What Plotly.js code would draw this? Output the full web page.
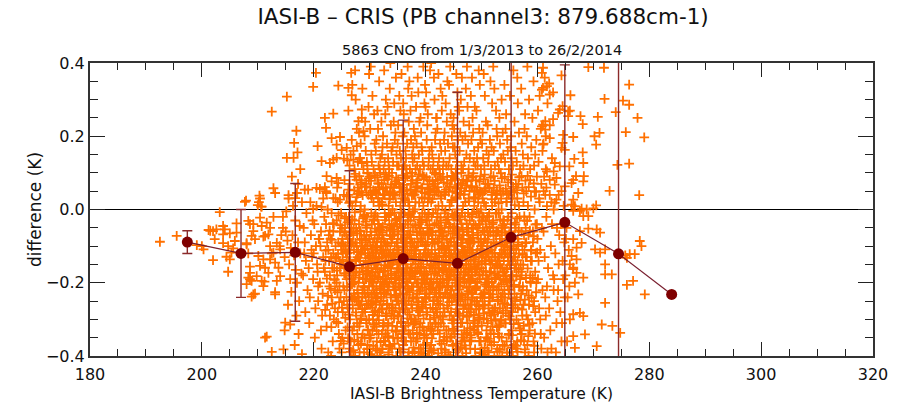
<!DOCTYPE html>
<html><head><meta charset="utf-8">
<script src="https://cdn.plot.ly/plotly-3.0.1.min.js"></script>
<style>html,body{margin:0;padding:0;background:#fff}#chart{width:903px;height:403px}</style>
</head><body><div id="chart"></div>
<script>
// Binned means (IASI-B BT bins) with standard deviations
const meanBT   = [197.4, 207.0, 216.7, 226.4, 236.0, 245.7, 255.3, 264.9, 274.5, 284.0];
const meanDiff = [-0.089, -0.120, -0.117, -0.156, -0.134, -0.147, -0.076, -0.035, -0.121, -0.232];
const sdDiff   = [0.031, 0.120, 0.188, 0.262, 0.378, 0.467, 0.550, 0.430, 0.620, 0];

// Individual collocations, flat [BT, diff, BT, diff, ...]
const leftPts = [192.5,-.088,195.5,-.072,199.1,-.097,200.0,-.100,200.3,-.109,201.2,-.056,201.5,-.058,202.0,-.059,202.6,-.054,202.0,-.138,202.3,-.081,203.2,-.007,203.8,-.092,203.8,-.045,204.1,-.054,203.8,-.068,204.4,-.129,204.7,-.170,204.7,-.100,205.3,-.118,205.0,-.136,205.0,-.065,205.6,-.106,206.2,-.038,206.2,-.063,205.9,-.086,207.7,.021,207.9,.024,208.3,-.031,208.6,-.040,209.2,-.059,208.9,-.072,209.5,-.081,208.0,-.095,208.6,-.156,208.6,-.190,208.9,-.238,208.6,-.173,208.3,-.186,208.9,-.195,208.0,-.204,209.2,-.232,209.2,-.040,210.4,-.022,210.7,-.045,211.6,-.036,212.2,-.050,211.3,-.072,211.9,-.068,210.1,-.127,211.0,-.136,210.4,-.154,211.3,-.159,209.8,-.182,210.7,-.195,211.9,-.173,211.0,-.209,209.5,-.230,213.1,-.232,212.2,-.100,213.4,-.091,212.8,-.118,214.0,-.109,213.1,-.145,213.7,-.159,212.2,-.136,214.0,-.182,213.4,-.195,211.3,-.350,212.5,-.389,214.6,-.382,214.9,-.309,215.8,-.314,210.7,.008,210.4,.030,210.3,.038,210.2,.020,210.0,.012,210.6,.008,211.6,-.347,212.5,.267,212.8,.058,213.1,.045,212.8,-.020,212.5,-.120,213.1,-.226,213.9,-.100,214.5,-.050,214.8,-.330,215.2,.308,215.2,.141,216.4,.141,216.5,.182,217.1,.156,215.5,.039,215.5,.030,215.8,-.190,211.0,-.074,211.2,-.197,208.0,-.092,208.3,-.120,
214.5,-.02,215.0,-.06,215.3,-.085,214.8,-.13,215.6,-.15,215.9,-.105,216.2,-.07,216.5,-.125,216.8,-.165,217.2,-.09,217.5,-.045,217.0,-.2,216.0,-.225,217.4,-.25,215.4,-.26,216.9,-.29,217.6,-.12,217.8,-.175,216.3,.01,217.0,.045,217.9,.02,216.7,-.03,215.1,-.005,214.2,-.07,217.3,-.34,216.6,-.37,217.9,-.395,216.1,.09,217.6,.11,217.2,.07,216.9,.215];

const bandA = [218.2,-.05,218.6,-.14,218.9,-.22,218.4,-.09,218.1,-.18,218.7,-.01,218.5,-.28,218.3,-.12,
219.5,-.07,219.1,-.16,219.8,-.03,219.3,-.24,219.6,-.11,219.2,-.31,219.9,-.19,219.4,.02,219.7,-.13,
220.4,-.10,220.8,-.21,220.1,-.04,220.6,-.15,220.3,-.27,220.9,-.08,220.2,-.35,220.7,-.17,220.5,.01,220.0,-.12,220.8,-.25,
221.3,-.06,221.7,-.13,221.1,-.20,221.9,-.02,221.5,-.29,221.2,-.10,221.8,-.16,221.4,-.38,221.6,-.23,221.0,-.08,221.7,.03,221.3,-.33,
222.6,-.11,222.2,-.04,222.9,-.18,222.4,-.26,222.1,-.14,222.7,-.07,222.3,-.32,222.8,-.21,222.5,.00,222.0,-.17,222.6,-.39,222.4,-.09,222.9,-.29,222.2,.05,
223.1,-.13,223.5,-.06,223.8,-.22,223.3,-.16,223.9,-.10,223.6,-.30,223.2,-.01,223.7,-.19,223.4,-.36,223.0,-.08,223.8,-.27,223.5,-.12,223.2,-.24,223.9,.03,223.6,-.04,223.1,-.40,
224.4,-.09,224.8,-.15,224.1,-.03,224.6,-.21,224.3,-.28,224.9,-.11,224.2,-.18,224.7,-.06,224.5,-.34,224.0,-.13,224.8,-.24,224.3,.02,224.6,-.38,224.1,-.20,224.9,-.01,224.4,-.31,224.7,-.16,224.2,.06,
225.2,-.12,225.6,-.05,225.9,-.19,225.4,-.25,225.1,-.08,225.7,-.33,225.3,-.15,225.8,-.02,225.5,-.22,225.0,-.39,225.6,-.10,225.2,-.28,225.9,-.13,225.4,.04,225.7,-.18,225.1,-.35,225.8,-.07,225.3,-.21,225.5,.08,225.0,-.15];

const bandB = [226.3,-.02,226.7,-.15,226.1,-.27,226.5,-.09,226.9,-.33,226.2,.04,226.6,-.21,226.8,-.06,226.4,-.38,226.0,-.12,226.7,-.24,226.3,-.17,226.9,.01,226.5,-.30,226.1,-.08,226.6,-.36,226.8,-.19,226.2,-.11,226.4,.07,226.7,-.04,226.0,-.26,226.5,-.14,
227.1,-.07,227.5,-.14,227.8,-.22,227.3,-.03,227.6,-.29,227.2,-.11,227.9,-.36,227.4,-.18,227.0,-.09,227.7,-.25,227.5,.02,227.2,-.32,227.8,-.13,227.3,-.20,227.6,-.05,227.9,.06,227.1,-.16,227.4,-.40,227.7,-.10,227.0,-.27,227.6,-.17,227.3,.09,227.8,-.34,227.2,-.23,
228.5,-.12,228.1,-.04,228.8,-.19,228.3,-.26,228.6,-.08,228.2,-.31,228.9,-.15,228.4,.01,228.7,-.22,228.0,-.37,228.5,-.10,228.2,-.17,228.8,-.28,228.4,-.06,228.1,.05,228.6,-.35,228.9,-.02,228.3,-.14,228.7,-.24,228.0,-.20,228.5,.08,228.2,-.39,228.8,-.11,228.4,-.30,228.6,-.16,228.1,-.26,
229.3,-.09,229.7,-.16,229.1,-.23,229.5,-.02,229.9,-.30,229.2,-.12,229.6,-.37,229.4,-.19,229.8,.04,229.0,-.07,229.5,-.26,229.3,-.14,229.7,-.33,229.1,.00,229.9,-.21,229.6,-.10,229.2,-.28,229.4,.07,229.8,-.17,229.0,-.39,229.5,-.05,229.3,-.24,229.7,-.12,229.1,-.35,229.6,.10,229.9,-.08,229.2,-.19,229.4,-.31,
230.4,-.11,230.8,-.03,230.1,-.18,230.6,-.25,230.3,-.07,230.9,-.32,230.2,-.14,230.7,.02,230.5,-.21,230.0,-.38,230.6,-.09,230.3,-.16,230.8,-.28,230.1,.06,230.4,-.04,230.9,-.23,230.2,-.35,230.7,-.12,230.5,-.19,230.0,.09,230.6,-.30,230.3,-.01,230.8,-.15,230.1,-.26,230.4,-.40,230.9,-.08,230.2,.04,230.7,-.20,230.5,-.33,230.0,-.13,
231.2,-.06,231.6,-.13,231.9,-.22,231.4,-.29,231.1,-.10,231.7,.01,231.3,-.36,231.8,-.17,231.5,-.04,231.0,-.24,231.6,.07,231.2,-.31,231.9,-.11,231.4,-.19,231.1,-.38,231.7,-.07,231.3,-.15,231.8,-.26,231.5,.03,231.0,-.12,231.6,-.34,231.2,-.21,231.9,.10,231.4,-.02,231.1,-.17,231.7,-.28,231.3,-.09,231.8,-.39,231.5,-.14,231.0,.05,
232.5,-.08,232.1,-.16,232.8,-.02,232.3,-.27,232.6,-.12,232.2,-.34,232.9,-.19,232.4,.04,232.7,-.23,232.0,-.10,232.5,-.31,232.1,-.05,232.8,-.14,232.3,-.38,232.6,.08,232.2,-.21,232.9,-.29,232.4,-.11,232.7,-.01,232.0,-.25,232.5,-.17,232.1,.02,232.8,-.36,232.3,-.07,232.6,-.20,232.2,-.13,232.9,.06,232.4,-.32,232.7,-.09,232.0,-.40,
233.3,-.12,233.7,-.05,233.1,-.20,233.5,-.27,233.9,-.09,233.2,-.33,233.6,-.15,233.4,.01,233.8,-.24,233.0,-.02,233.5,-.37,233.3,-.18,233.7,-.11,233.1,.05,233.9,-.29,233.6,-.07,233.2,-.22,233.4,-.39,233.8,-.14,233.0,.09,233.5,-.04,233.3,-.31,233.7,-.16,233.1,-.26,233.6,.03,233.9,-.19,233.2,-.10,233.4,-.35,233.8,-.01,233.0,-.23,
234.4,-.07,234.8,-.17,234.1,-.26,234.6,-.03,234.3,-.13,234.9,-.32,234.2,-.21,234.7,.02,234.5,-.10,234.0,-.38,234.6,-.24,234.3,-.06,234.8,.07,234.1,-.15,234.4,-.29,234.9,-.11,234.2,-.35,234.7,-.19,234.5,.04,234.0,-.08,234.6,-.27,234.3,-.14,234.8,-.40,234.1,.00,234.4,-.22,234.9,-.04,234.2,-.12,234.7,-.33,234.5,-.18,234.0,.10,
235.2,-.11,235.6,-.02,235.9,-.19,235.4,-.28,235.1,-.06,235.7,-.35,235.3,-.14,235.8,.03,235.5,-.23,235.0,-.09,235.6,-.31,235.2,-.16,235.9,.06,235.4,-.04,235.1,-.25,235.7,-.12,235.3,-.38,235.8,-.20,235.5,.01,235.0,-.29,235.6,-.08,235.2,-.21,235.9,-.34,235.4,-.13,235.1,.08,235.7,-.17,235.3,-.27,235.8,-.05,235.5,-.39,235.0,-.15];

const bandC = [236.5,-.09,236.1,-.18,236.8,-.03,236.3,-.25,236.6,-.13,236.2,-.33,236.9,.02,236.4,-.21,236.7,-.07,236.0,-.37,236.5,-.15,236.1,.05,236.8,-.28,236.3,-.10,236.6,-.19,236.2,-.01,236.9,-.31,236.4,-.12,236.7,.09,236.0,-.23,236.5,-.36,236.1,-.06,236.8,-.16,236.3,.03,236.6,-.26,236.2,-.11,236.9,-.40,236.4,-.04,236.7,-.20,236.0,-.14,
237.3,-.06,237.7,-.14,237.1,-.22,237.5,-.30,237.9,-.02,237.2,-.17,237.6,-.09,237.4,-.36,237.8,.04,237.0,-.25,237.5,-.11,237.3,-.19,237.7,-.33,237.1,.01,237.9,-.13,237.6,-.27,237.2,-.07,237.4,.07,237.8,-.21,237.0,-.39,237.5,-.16,237.3,-.03,237.7,-.24,237.1,-.12,237.6,.10,237.9,-.31,237.2,-.18,237.4,-.08,237.8,-.35,237.0,-.01,
238.4,-.10,238.8,-.04,238.1,-.19,238.6,-.26,238.3,-.13,238.9,-.34,238.2,.02,238.7,-.21,238.5,-.07,238.0,-.30,238.6,-.16,238.3,.05,238.8,-.38,238.1,-.11,238.4,-.24,238.9,-.02,238.2,-.15,238.7,-.29,238.5,.08,238.0,-.09,238.6,-.20,238.3,-.36,238.8,-.13,238.1,.00,238.4,-.27,238.9,-.06,238.2,-.17,238.7,-.40,238.5,-.23,238.0,.04,
239.2,-.08,239.6,-.15,239.9,-.23,239.4,-.01,239.1,-.31,239.7,-.12,239.3,-.19,239.8,.03,239.5,-.27,239.0,-.05,239.6,-.37,239.2,-.16,239.9,-.10,239.4,.06,239.1,-.22,239.7,-.33,239.3,-.03,239.8,-.18,239.5,-.13,239.0,-.28,239.6,.01,239.2,-.39,239.9,-.07,239.4,-.25,239.1,-.14,239.7,.09,239.3,-.20,239.8,-.35,239.5,-.09,239.0,-.17,
240.5,-.12,240.1,-.03,240.8,-.20,240.3,-.28,240.6,-.07,240.2,-.35,240.9,-.15,240.4,.02,240.7,-.24,240.0,-.10,240.5,-.32,240.1,-.17,240.8,.05,240.3,-.05,240.6,-.21,240.2,-.13,240.9,-.38,240.4,-.09,240.7,.08,240.0,-.26,240.5,-.01,240.1,-.19,240.8,-.30,240.3,-.14,240.6,.03,240.2,-.23,240.9,-.06,240.4,-.40,240.7,-.16,240.0,-.11,
241.3,-.09,241.7,-.17,241.1,-.02,241.5,-.25,241.9,-.13,241.2,-.32,241.6,.04,241.4,-.20,241.8,-.07,241.0,-.37,241.5,-.14,241.3,-.27,241.7,.07,241.1,-.11,241.9,-.22,241.6,-.04,241.2,-.16,241.4,-.34,241.8,.00,241.0,-.19,241.5,-.29,241.3,-.06,241.7,-.12,241.1,-.39,241.6,.10,241.9,-.24,241.2,-.08,241.4,-.15,241.8,-.31,241.0,.02,
242.4,-.11,242.8,-.05,242.1,-.18,242.6,-.26,242.3,.01,242.9,-.14,242.2,-.33,242.7,-.21,242.5,-.08,242.0,.05,242.6,-.29,242.3,-.16,242.8,-.38,242.1,-.02,242.4,-.23,242.9,-.10,242.2,.08,242.7,-.19,242.5,-.36,242.0,-.13,242.6,-.06,242.3,-.31,242.8,.03,242.1,-.25,242.4,-.15,242.9,-.40,242.2,-.09,242.7,-.03,242.5,-.20,242.0,-.28,
243.2,-.07,243.6,-.14,243.9,-.24,243.4,-.01,243.1,-.30,243.7,-.17,243.3,-.10,243.8,-.36,243.5,.04,243.0,-.21,243.6,-.12,243.2,-.27,243.9,.07,243.4,-.05,243.1,-.19,243.7,-.33,243.3,-.15,243.8,-.08,243.5,-.23,243.0,.01,243.6,-.39,243.2,-.13,243.9,-.02,243.4,-.28,243.1,.09,243.7,-.11,243.3,-.20,243.8,-.35,243.5,-.16,243.0,-.06,
244.5,-.13,244.1,-.06,244.8,-.21,244.3,-.29,244.6,.02,244.2,-.15,244.9,-.37,244.4,-.09,244.7,-.25,244.0,-.02,244.5,-.18,244.1,-.33,244.8,.05,244.3,-.11,244.6,-.22,244.2,-.04,244.9,-.14,244.4,-.40,244.7,.08,244.0,-.27,244.5,-.08,244.1,-.19,244.8,-.31,244.3,.01,244.6,-.12,244.2,-.24,244.9,-.05,244.4,-.35,244.7,-.17,244.0,-.10,
245.3,-.10,245.7,-.03,245.1,-.18,245.5,-.26,245.9,-.12,245.2,-.34,245.6,.03,245.4,-.21,245.8,-.07,245.0,-.30,245.5,-.15,245.3,.06,245.7,-.38,245.1,-.09,245.9,-.23,245.6,-.01,245.2,-.17,245.4,-.28,245.8,-.13,245.0,.09,245.5,-.05,245.3,-.20,245.7,-.32,245.1,-.11,245.6,.00,245.9,-.25,245.2,-.06,245.4,-.39,245.8,-.16,245.0,-.14];

const bandD = [246.4,-.08,246.8,-.16,246.1,-.02,246.6,-.24,246.3,-.31,246.9,-.11,246.2,.04,246.7,-.19,246.5,-.36,246.0,-.06,246.6,-.13,246.3,.07,246.8,-.27,246.1,-.21,246.4,-.04,246.9,-.33,246.2,-.14,246.7,.01,246.5,-.10,246.0,-.23,246.6,-.40,246.3,-.17,246.8,-.07,246.1,-.29,246.4,.10,246.9,-.12,246.2,-.20,246.7,-.35,246.5,-.01,246.0,-.15,
247.2,-.12,247.6,-.05,247.9,-.20,247.4,-.28,247.1,.02,247.7,-.15,247.3,-.34,247.8,-.09,247.5,-.23,247.0,.05,247.6,-.18,247.2,-.38,247.9,-.03,247.4,-.13,247.1,-.26,247.7,-.07,247.3,.08,247.8,-.21,247.5,-.31,247.0,-.11,247.6,-.01,247.2,-.17,247.9,-.36,247.4,-.06,247.1,-.24,247.7,.03,247.3,-.14,247.8,-.29,247.5,-.09,247.0,-.19,
248.5,-.07,248.1,-.14,248.8,-.25,248.3,-.02,248.6,-.32,248.2,-.18,248.9,.03,248.4,-.11,248.7,-.22,248.0,-.38,248.5,-.05,248.1,-.28,248.8,-.15,248.3,.06,248.6,-.09,248.2,-.35,248.9,-.20,248.4,-.01,248.7,-.13,248.0,-.26,248.5,.09,248.1,-.08,248.8,-.31,248.3,-.17,248.6,-.04,248.2,-.23,248.9,-.40,248.4,-.12,248.7,.01,248.0,-.16,
249.3,-.11,249.7,-.04,249.1,-.21,249.5,-.29,249.9,-.08,249.2,-.16,249.6,-.36,249.4,.02,249.8,-.24,249.0,-.13,249.5,-.01,249.3,-.32,249.7,-.19,249.1,.06,249.9,-.10,249.6,-.27,249.2,-.05,249.4,-.15,249.8,-.39,249.0,-.22,249.5,.04,249.3,-.07,249.7,-.30,249.1,-.12,249.6,-.18,249.9,.00,249.2,-.25,249.4,-.34,249.8,-.09,249.0,.08,
250.4,-.09,250.8,-.17,250.1,-.03,250.6,-.26,250.3,-.12,250.9,-.33,250.2,.03,250.7,-.20,250.5,-.06,250.0,-.38,250.6,-.14,250.3,-.23,250.8,.01,250.1,-.10,250.4,-.30,250.9,-.05,250.2,-.18,250.7,-.36,250.5,.05,250.0,-.15,250.6,-.08,250.3,-.27,250.8,-.13,250.1,-.40,250.4,-.02,250.9,-.21,250.2,-.11,250.7,.07,250.5,-.24,250.0,-.16,
251.2,-.07,251.6,-.15,251.9,-.24,251.4,-.01,251.1,-.31,251.7,-.11,251.3,-.19,251.8,.04,251.5,-.36,251.0,-.09,251.6,-.22,251.2,-.13,251.9,-.04,251.4,-.28,251.1,.07,251.7,-.17,251.3,-.39,251.8,-.10,251.5,-.25,251.0,-.02,251.6,-.33,251.2,-.20,251.9,.01,251.4,-.14,251.1,-.06,251.7,-.29,251.3,-.12,251.8,-.37,
252.5,-.10,252.1,-.03,252.8,-.18,252.3,-.27,252.6,-.07,252.2,-.34,252.9,-.14,252.4,.02,252.7,-.22,252.0,-.12,252.5,-.30,252.1,-.05,252.8,-.38,252.3,-.16,252.6,.04,252.2,-.09,252.9,-.25,252.4,-.19,252.7,-.01,252.0,-.32,252.5,-.13,252.1,-.21,252.8,-.06,252.3,-.40,252.6,-.15,252.2,.06,252.9,-.28,
253.3,-.08,253.7,-.16,253.1,-.01,253.5,-.24,253.9,-.11,253.2,-.32,253.6,-.05,253.4,-.19,253.8,-.37,253.0,-.13,253.5,.03,253.3,-.27,253.7,-.09,253.1,-.21,253.9,-.03,253.6,-.35,253.2,-.15,253.4,.05,253.8,-.23,253.0,-.06,253.5,-.30,253.3,-.12,253.7,-.40,253.1,-.18,253.6,.00,
254.4,-.09,254.8,-.02,254.1,-.17,254.6,-.26,254.3,-.12,254.9,-.34,254.2,-.05,254.7,-.21,254.5,.02,254.0,-.14,254.6,-.39,254.3,-.07,254.8,-.29,254.1,-.10,254.4,-.19,254.9,.04,254.2,-.24,254.7,-.13,254.5,-.36,254.0,-.03,254.6,-.16,254.3,-.31,254.8,-.08,254.1,-.22,
255.2,-.06,255.6,-.14,255.9,-.23,255.4,-.01,255.1,-.30,255.7,-.10,255.3,-.18,255.8,-.37,255.5,.03,255.0,-.12,255.6,-.26,255.2,-.04,255.9,-.16,255.4,-.33,255.1,-.08,255.7,-.21,255.3,.05,255.8,-.13,255.5,-.28,255.0,-.19,255.6,-.40,255.2,-.11];

const bandE = [256.5,-.08,256.1,-.15,256.8,-.02,256.3,-.24,256.6,-.31,256.2,-.11,256.9,-.19,256.4,-.36,256.7,.01,256.0,-.13,256.5,-.27,256.1,-.05,256.8,-.21,256.3,-.38,256.6,-.09,256.2,-.16,256.9,-.33,256.4,.03,256.7,-.12,256.0,-.25,
257.3,-.10,257.7,-.03,257.1,-.18,257.5,-.26,257.9,-.13,257.2,-.34,257.6,-.07,257.4,-.21,257.8,-.39,257.0,-.15,257.5,.02,257.3,-.29,257.7,-.11,257.1,-.23,257.9,-.05,257.6,-.36,257.2,-.17,
258.4,-.07,258.8,-.14,258.1,-.22,258.6,-.02,258.3,-.30,258.9,-.11,258.2,-.37,258.7,-.18,258.5,-.26,258.0,-.09,258.6,-.33,258.3,.01,258.8,-.20,258.1,-.13,258.4,-.40,
259.2,-.09,259.6,-.17,259.9,-.04,259.4,-.25,259.1,-.31,259.7,-.12,259.3,-.36,259.8,-.20,259.5,.00,259.0,-.14,259.6,-.28,259.2,-.06,259.4,-.39,
260.5,-.11,260.1,-.19,260.8,-.05,260.3,-.27,260.6,-.34,260.2,-.14,260.9,-.22,260.4,.02,260.7,-.38,260.0,-.08,260.5,-.30,
261.3,-.13,261.7,-.21,261.1,-.06,261.5,-.29,261.9,-.16,261.2,-.35,261.6,-.02,261.4,-.24,261.8,-.39,
262.4,-.10,262.8,-.18,262.1,-.27,262.6,-.04,262.3,-.33,262.9,-.22,262.5,-.38,
263.2,-.12,263.6,-.25,263.9,-.07,263.4,-.31,263.0,-.19,263.5,-.05,263.8,-.15,263.3,-.39,263.7,-.22,
264.5,-.14,264.1,-.28,264.8,-.09,264.3,-.36,264.2,-.04,264.6,-.19,264.9,-.24,264.4,-.31,
265.2,-.05,265.6,-.11,265.0,-.18,265.4,-.24,265.8,-.30,265.3,-.36,265.7,-.21,265.1,-.08,
256.6,.07,257.3,.06,258.7,.08,259.5,.05,260.7,.07,261.6,.06,262.2,.04,261.2,.09,259.9,.09,258.0,.05,260.3,.03,261.1,.05,262.5,.02,263.8,.04,264.7,.01];

// Second pass over the crowded core (222-259 K)
const coreFill = [222.15,-.112,222.55,-.236,222.85,-.058,222.35,-.189,222.75,-.141,222.05,-.274,
223.25,-.083,223.65,-.161,223.05,-.216,223.45,-.037,223.85,-.134,223.35,-.257,223.75,-.192,223.15,-.321,
224.35,-.121,224.75,-.043,224.15,-.167,224.55,-.253,224.95,-.093,224.25,-.226,224.65,-.141,224.05,-.307,224.45,-.016,224.85,-.359,
225.05,-.051,225.45,-.174,225.85,-.239,225.25,-.097,225.65,-.296,225.15,-.137,225.55,-.024,225.95,-.211,225.35,-.366,225.75,-.116,225.05,-.268,225.45,-.063,
226.05,-.035,226.45,-.118,226.85,-.204,226.25,-.287,226.65,-.062,226.15,-.351,226.55,-.163,226.95,-.246,226.35,.018,226.75,-.094,226.05,-.322,226.45,-.188,226.85,-.027,226.25,-.142,226.65,-.389,
227.15,-.052,227.55,-.137,227.95,-.262,227.35,-.008,227.75,-.311,227.05,-.173,227.45,-.091,227.85,-.228,227.25,-.356,227.65,.034,227.15,-.197,227.55,-.281,227.95,-.116,227.35,-.243,227.75,-.066,227.05,-.384,227.45,-.152,
228.25,-.083,228.65,-.161,228.05,-.238,228.45,-.297,228.85,-.024,228.35,-.123,228.75,-.341,228.15,-.186,228.55,.047,228.95,-.209,228.25,-.058,228.65,-.272,228.05,-.132,228.45,-.366,228.85,-.177,228.35,-.005,228.75,-.101,228.15,-.319,228.55,-.251,
229.35,-.044,229.75,-.133,229.15,-.271,229.55,-.176,229.95,-.352,229.25,-.084,229.65,-.227,229.05,-.015,229.45,-.302,229.85,-.146,229.35,.062,229.75,-.258,229.15,-.107,229.55,-.381,229.95,-.192,229.25,-.033,229.65,-.328,229.05,-.213,229.45,-.071,229.85,-.239,229.35,-.167,
230.15,-.097,230.55,-.171,230.95,-.052,230.35,-.233,230.75,-.314,230.05,-.126,230.45,-.267,230.85,-.018,230.25,-.196,230.65,-.372,230.15,-.061,230.55,-.288,230.95,-.149,230.35,.031,230.75,-.221,230.05,-.343,230.45,-.108,230.85,-.182,230.25,-.257,230.65,-.027,230.15,-.395,230.55,-.135,
231.05,-.143,231.45,-.078,231.85,-.215,231.25,-.331,231.65,-.039,231.15,-.254,231.55,-.186,231.95,-.362,231.35,-.104,231.75,.021,231.05,-.277,231.45,-.163,231.85,-.056,231.25,-.228,231.65,-.302,231.15,-.119,231.55,.055,231.95,-.197,231.35,-.385,231.75,-.134,231.05,-.011,231.45,-.242,
232.25,-.063,232.65,-.152,232.05,-.238,232.45,-.317,232.85,-.097,232.35,-.184,232.75,-.029,232.15,-.273,232.55,-.359,232.95,-.126,232.25,.014,232.65,-.206,232.05,-.087,232.45,-.249,232.85,-.338,232.35,-.046,232.75,-.167,232.15,-.113,232.55,-.226,232.95,-.291,232.25,-.381,232.65,.042,
233.35,-.139,233.75,-.072,233.15,-.257,233.55,-.198,233.95,-.043,233.25,-.346,233.65,-.121,233.05,-.284,233.45,-.015,233.85,-.176,233.35,-.312,233.75,-.233,233.15,-.093,233.55,.028,233.95,-.268,233.25,-.157,233.65,-.374,233.05,-.058,233.45,-.211,233.85,-.129,233.35,-.396,233.75,.061,
234.05,-.054,234.45,-.187,234.85,-.248,234.25,-.118,234.65,-.334,234.15,-.071,234.55,-.219,234.95,-.162,234.35,-.297,234.75,-.026,234.05,-.143,234.45,-.367,234.85,-.091,234.25,.038,234.65,-.203,234.15,-.276,234.55,-.128,234.95,-.351,234.35,-.047,234.75,-.236,234.05,-.318,234.45,-.009,
235.15,-.124,235.55,-.046,235.95,-.271,235.35,-.193,235.75,-.082,235.05,-.352,235.45,-.146,235.85,-.232,235.25,-.021,235.65,-.307,235.15,-.173,235.55,-.389,235.95,-.104,235.35,.047,235.75,-.256,235.05,-.067,235.45,-.214,235.85,-.331,235.25,-.136,235.65,-.008,235.15,-.292,235.55,-.181,
236.25,-.076,236.65,-.233,236.05,-.165,236.45,-.318,236.85,-.041,236.35,-.274,236.75,-.112,236.15,-.359,236.55,-.197,236.95,-.015,236.25,-.249,236.65,-.088,236.05,-.382,236.45,-.137,236.85,-.216,236.35,.026,236.75,-.297,236.15,-.059,236.55,-.174,236.95,-.338,236.25,-.121,236.65,.053,
237.35,-.158,237.75,-.049,237.15,-.287,237.55,-.211,237.95,-.104,237.25,-.341,237.65,-.176,237.05,-.068,237.45,-.259,237.85,-.377,237.35,-.021,237.75,-.139,237.15,-.226,237.55,.038,237.95,-.314,237.25,-.093,237.65,-.392,237.05,-.188,237.45,-.127,237.85,-.243,237.35,-.299,237.75,-.006,
238.05,-.131,238.45,-.063,238.85,-.222,238.25,-.305,238.65,-.089,238.15,-.174,238.55,-.353,238.95,-.027,238.35,-.241,238.75,-.148,238.05,-.388,238.45,-.202,238.85,.019,238.25,-.113,238.65,-.276,238.15,-.044,238.55,-.166,238.95,-.321,238.35,.061,238.75,-.253,238.05,-.184,238.45,-.337,
239.15,-.051,239.55,-.192,239.95,-.128,239.35,-.266,239.75,-.343,239.05,-.087,239.45,-.214,239.85,-.011,239.25,-.157,239.65,-.298,239.15,-.379,239.55,-.066,239.95,-.239,239.35,.033,239.75,-.176,239.05,-.121,239.45,-.322,239.85,-.203,239.25,-.035,239.65,-.253,239.15,-.141,239.55,-.394,
240.25,-.178,240.65,-.043,240.05,-.244,240.45,-.117,240.85,-.326,240.35,-.069,240.75,-.205,240.15,-.287,240.55,-.014,240.95,-.154,240.25,-.364,240.65,-.231,240.05,-.096,240.45,.046,240.85,-.269,240.35,-.188,240.75,-.129,240.15,-.341,240.55,-.061,240.95,-.217,240.25,-.029,240.65,-.386,
241.05,-.062,241.45,-.141,241.85,-.273,241.25,-.213,241.65,-.094,241.15,-.352,241.55,-.176,241.95,-.037,241.35,-.248,241.75,-.312,241.05,-.123,241.45,-.384,241.85,-.159,241.25,.029,241.65,-.227,241.15,-.081,241.55,-.296,241.95,-.197,241.35,-.009,241.75,-.136,241.05,-.331,241.45,.058,
242.15,-.087,242.55,-.228,242.95,-.163,242.35,-.044,242.75,-.311,242.05,-.199,242.45,-.126,242.85,-.367,242.25,-.257,242.65,-.022,242.15,-.143,242.55,-.339,242.95,-.074,242.35,-.214,242.75,.037,242.05,-.281,242.45,-.171,242.85,-.106,242.25,-.393,242.65,-.238,242.15,-.011,242.55,-.058,
243.25,-.167,243.65,-.036,243.05,-.293,243.45,-.119,243.85,-.212,243.35,-.348,243.75,-.083,243.15,-.241,243.55,-.003,243.95,-.177,243.25,-.319,243.65,-.138,243.05,-.064,243.45,-.383,243.85,-.262,243.35,.048,243.75,-.193,243.15,-.102,243.55,-.227,243.95,-.028,243.25,-.357,243.65,-.151,
244.05,-.101,244.45,-.232,244.85,-.066,244.25,-.183,244.65,-.347,244.15,-.127,244.55,-.279,244.95,-.019,244.35,-.164,244.75,-.301,244.05,-.208,244.45,-.047,244.85,-.372,244.25,-.253,244.65,.026,244.15,-.191,244.55,-.088,244.95,-.326,244.35,-.142,244.75,-.012,244.05,-.398,244.45,-.221,
245.15,-.047,245.55,-.193,245.95,-.284,245.35,-.124,245.75,-.059,245.05,-.236,245.45,-.366,245.85,-.151,245.25,-.016,245.65,-.272,245.15,-.331,245.55,-.097,245.95,-.207,245.35,.034,245.75,-.178,245.05,-.303,245.45,-.132,245.85,-.383,245.25,-.241,245.65,-.076,245.15,-.164,245.55,.057,
246.25,-.132,246.65,-.054,246.05,-.218,246.45,-.341,246.85,-.172,246.35,-.091,246.75,-.263,246.15,-.027,246.55,-.309,246.95,-.197,246.25,-.376,246.65,-.116,246.05,-.068,246.45,-.234,246.85,.041,246.35,-.153,246.75,-.289,246.15,-.186,246.55,-.009,246.95,-.357,246.25,-.246,246.65,-.083,
247.35,-.038,247.75,-.178,247.15,-.261,247.55,-.104,247.95,-.324,247.25,-.149,247.65,-.223,247.05,-.371,247.45,-.061,247.85,-.198,247.35,-.293,247.75,.022,247.15,-.127,247.55,-.246,247.95,-.086,247.25,-.392,247.65,-.164,247.05,-.019,247.45,-.336,247.85,-.117,247.35,-.214,247.75,-.271,
248.05,-.094,248.45,-.241,248.85,-.171,248.25,-.053,248.65,-.287,248.15,-.358,248.55,-.136,248.95,-.216,248.35,-.014,248.75,-.329,248.05,-.193,248.45,-.077,248.85,-.381,248.25,-.259,248.65,.034,248.15,-.118,248.55,-.304,248.95,-.043,248.35,-.227,248.75,-.155,248.05,-.343,248.45,-.189,
249.15,-.163,249.55,-.041,249.95,-.232,249.35,-.318,249.75,-.119,249.05,-.273,249.45,-.087,249.85,-.359,249.25,-.196,249.65,-.022,249.15,-.251,249.55,-.143,249.95,-.392,249.35,-.064,249.75,.047,249.05,-.214,249.45,-.296,249.85,-.108,249.25,-.335,249.65,-.177,249.15,-.006,249.55,-.264,
250.25,-.057,250.65,-.206,250.05,-.131,250.45,-.284,250.85,-.349,250.35,-.168,250.75,-.033,250.15,-.241,250.55,-.378,250.95,-.112,250.25,-.262,250.65,-.081,250.05,-.317,250.45,.018,250.85,-.189,250.35,-.397,250.75,-.148,250.15,-.019,250.55,-.226,250.95,-.297,250.25,-.124,250.65,.052,
251.05,-.116,251.45,-.047,251.85,-.197,251.25,-.262,251.65,-.338,251.15,-.082,251.55,-.231,251.95,-.149,251.35,-.018,251.75,-.304,251.05,-.386,251.45,-.171,251.85,.028,251.25,-.212,251.65,-.101,251.15,-.353,251.55,-.063,251.95,-.276,251.35,-.241,251.75,-.138,251.05,-.188,
252.15,-.072,252.55,-.186,252.95,-.247,252.35,-.119,252.75,-.321,252.05,-.036,252.45,-.268,252.85,-.154,252.25,-.362,252.65,-.093,252.15,-.213,252.55,-.011,252.95,-.339,252.35,-.176,252.75,.043,252.05,-.232,252.45,-.131,252.85,-.389,252.25,-.286,252.65,-.058,
253.25,-.141,253.65,-.064,253.05,-.219,253.45,-.304,253.85,-.172,253.35,-.027,253.75,-.257,253.15,-.348,253.55,-.096,253.95,-.193,253.25,-.383,253.65,-.123,253.05,.017,253.45,-.237,253.85,-.283,253.35,-.158,253.75,-.043,253.15,-.316,253.55,-.204,
254.05,-.048,254.45,-.163,254.85,-.231,254.25,-.311,254.65,-.104,254.15,-.372,254.55,-.198,254.95,-.067,254.35,-.276,254.75,-.141,254.05,-.256,254.45,.021,254.85,-.342,254.25,-.182,254.65,-.029,254.15,-.121,254.55,-.391,254.95,-.219,
255.15,-.087,255.55,-.179,255.95,-.036,255.35,-.244,255.75,-.313,255.05,-.152,255.45,-.378,255.85,-.206,255.25,-.062,255.65,-.269,255.15,-.128,255.55,-.343,255.95,.012,255.35,-.194,255.75,-.107,255.05,-.292,
256.25,-.183,256.65,-.057,256.05,-.268,256.45,-.139,256.85,-.324,256.35,-.024,256.75,-.211,256.15,-.372,256.55,-.096,256.95,-.247,256.25,-.301,256.65,-.164,256.05,-.041,256.45,-.389,
257.35,-.124,257.75,-.246,257.15,-.061,257.55,-.318,257.95,-.187,257.25,-.273,257.65,-.019,257.05,-.357,257.45,-.151,257.85,-.092,257.35,-.221,257.75,-.382,
258.25,-.161,258.65,-.058,258.05,-.289,258.45,-.235,258.85,-.112,258.35,-.346,258.75,-.197,258.15,-.031,258.55,-.314,258.95,-.241,
259.35,-.073,259.75,-.226,259.15,-.187,259.55,-.339,259.95,-.118,259.25,-.264,259.65,-.041,259.45,-.372];

// Points just above the zero line (0.035-0.10 K)
const nearZero = [227.25,.052,227.65,.081,227.85,.043,227.45,.097,228.35,.068,228.75,.039,228.15,.091,228.55,.074,
229.45,.046,229.85,.085,229.15,.063,229.65,.099,230.25,.078,230.65,.052,230.95,.094,230.45,.041,
231.35,.088,231.75,.061,231.15,.045,231.55,.072,232.45,.057,232.85,.096,232.15,.071,232.65,.039,
233.25,.083,233.65,.047,233.95,.068,233.45,.092,234.35,.059,234.75,.087,234.15,.044,234.55,.076,
235.25,.071,235.65,.049,235.85,.093,235.45,.062,236.35,.086,236.75,.043,236.15,.067,236.55,.098,
237.25,.055,237.65,.079,237.85,.042,237.45,.091,238.35,.073,238.75,.096,238.15,.048,238.55,.064,
239.25,.057,239.65,.083,239.85,.045,239.45,.094,240.35,.069,240.75,.041,240.15,.088,240.55,.056,
241.25,.077,241.65,.052,241.85,.095,241.45,.064,242.35,.046,242.75,.083,242.15,.061,242.55,.097,
243.25,.074,243.65,.054,243.85,.089,243.45,.041,244.35,.063,244.75,.092,244.15,.048,244.55,.079,
245.25,.084,245.65,.045,245.85,.067,245.45,.098,246.35,.058,246.75,.081,246.15,.043,246.55,.072,
247.25,.066,247.65,.093,247.85,.051,247.45,.077,248.35,.087,248.75,.049,248.15,.064,248.55,.099,
249.25,.053,249.65,.076,249.85,.091,249.45,.042,250.35,.082,250.75,.058,250.15,.044,250.55,.095,
251.25,.069,251.65,.087,251.85,.047,251.45,.059,252.35,.078,252.75,.052,252.15,.091,252.55,.041,
253.25,.066,253.65,.085,253.85,.048,253.45,.099,254.35,.057,254.75,.074,254.15,.089,254.55,.043,
255.25,.081,255.65,.062,255.85,.046,255.45,.095,256.35,.053,256.75,.088,256.15,.069,
257.55,.044,257.85,.079,257.15,.091,258.45,.061,258.85,.035,258.25,.092,259.35,.071,259.75,.048];

const upperPts = [220.4,.373,219.9,.335,226.7,.373,224.4,.338,226.2,.332,226.8,.312,222.0,.250,223.5,.262,222.2,.223,220.7,.173,223.2,.195,224.7,.198,224.1,.177,225.0,.162,225.9,.168,221.4,.132,222.9,.127,223.5,.136,224.1,.141,225.4,.139,226.0,.134,222.3,.091,223.2,.077,224.1,.086,224.4,.072,218.4,.054,219.0,.054,220.5,.059,221.1,.056,222.0,.061,226.2,.054,225.9,.036,226.5,.022,216.7,.031,222.3,.045,223.5,.031,224.7,.027,219.9,.002,221.4,.007,228.6,.273,228.0,.241,228.9,.214,227.7,.173,227.1,.136,228.3,.141,228.6,.127,
226.4,.12,226.8,.19,226.2,.27,226.6,.15,226.9,.34,
227.3,.11,227.7,.22,227.1,.16,227.5,.30,227.9,.13,227.4,.38,
228.2,.14,228.6,.25,228.9,.11,228.4,.18,228.7,.33,228.1,.21,
229.5,.13,229.1,.20,229.8,.28,229.3,.16,229.6,.12,229.9,.37,229.2,.24,
230.3,.15,230.7,.11,230.1,.22,230.5,.31,230.9,.18,230.4,.13,230.8,.26,230.2,.39,
231.6,.12,231.2,.19,231.9,.14,231.4,.27,231.7,.35,231.1,.16,231.5,.22,231.8,.11,
232.3,.17,232.7,.13,232.1,.24,232.5,.11,232.9,.30,232.4,.20,232.6,.38,232.2,.15,232.8,.26,
233.5,.11,233.1,.18,233.8,.23,233.3,.14,233.6,.33,233.2,.28,233.9,.16,233.4,.12,233.7,.40,
234.2,.13,234.6,.21,234.9,.12,234.4,.29,234.1,.17,234.7,.36,234.3,.24,234.8,.15,234.5,.19,
235.4,.16,235.8,.11,235.1,.23,235.6,.14,235.3,.31,235.9,.20,235.5,.27,235.2,.12,235.7,.37,235.0,.18,
236.3,.12,236.7,.18,236.1,.26,236.5,.14,236.9,.33,236.2,.21,236.6,.11,236.8,.39,236.4,.16,236.0,.29,
237.6,.15,237.2,.11,237.9,.22,237.4,.19,237.1,.35,237.7,.13,237.3,.27,237.8,.17,237.5,.31,237.0,.24,
238.5,.12,238.1,.20,238.8,.15,238.3,.28,238.6,.36,238.2,.11,238.9,.24,238.4,.18,238.7,.32,238.0,.14,
239.3,.17,239.7,.12,239.1,.25,239.5,.13,239.9,.34,239.2,.21,239.6,.39,239.4,.16,239.8,.29,239.0,.11,
240.6,.14,240.2,.19,240.9,.11,240.4,.26,240.1,.32,240.7,.16,240.3,.23,240.8,.38,240.5,.12,240.0,.28,
241.4,.13,241.8,.21,241.1,.17,241.6,.30,241.3,.11,241.9,.25,241.5,.36,241.2,.15,241.7,.19,241.0,.40,
242.2,.12,242.6,.18,242.9,.27,242.4,.14,242.7,.33,242.1,.22,242.5,.11,242.8,.16,242.3,.37,242.0,.25,
243.5,.16,243.1,.11,243.8,.24,243.3,.19,243.6,.29,243.2,.13,243.9,.35,243.4,.21,243.7,.12,243.0,.31,
244.3,.14,244.7,.20,244.1,.12,244.5,.26,244.9,.17,244.2,.34,244.6,.11,244.8,.23,244.4,.39,244.0,.18,
245.6,.13,245.2,.17,245.9,.28,245.4,.11,245.1,.22,245.7,.32,245.3,.15,245.8,.19,245.5,.37,245.0,.25,
246.4,.12,246.8,.24,246.1,.16,246.6,.19,246.3,.30,246.9,.13,246.5,.36,246.2,.21,246.7,.11,246.0,.27,
247.3,.15,247.7,.11,247.1,.20,247.5,.28,247.9,.14,247.2,.33,247.6,.18,247.4,.39,247.8,.23,
248.6,.13,248.2,.19,248.9,.12,248.4,.25,248.1,.31,248.7,.16,248.3,.36,248.5,.21,248.8,.28,
249.2,.14,249.6,.22,249.9,.11,249.4,.17,249.1,.27,249.7,.34,249.3,.12,249.8,.19,249.5,.38,
250.5,.12,250.1,.18,250.8,.24,250.3,.14,250.6,.31,250.2,.21,250.9,.16,250.4,.37,
251.3,.15,251.7,.11,251.1,.23,251.5,.19,251.9,.29,251.2,.13,251.6,.35,251.8,.17,
252.4,.12,252.8,.20,252.2,.16,252.6,.27,252.9,.13,252.3,.33,252.7,.22,252.1,.39,
253.5,.14,253.1,.11,253.8,.21,253.3,.18,253.6,.30,253.2,.25,253.9,.15,
254.2,.13,254.6,.19,254.9,.11,254.4,.26,254.1,.34,254.7,.16,254.3,.22,
255.6,.12,255.2,.17,255.9,.24,255.4,.14,255.1,.31,255.7,.38,255.3,.20,
256.3,.13,256.7,.21,256.1,.16,256.5,.29,256.9,.11,256.4,.36,
257.5,.12,257.2,.18,257.8,.26,257.4,.15,257.1,.33,257.7,.22,
258.3,.14,258.7,.11,258.1,.20,258.5,.30,258.9,.17,258.2,.39,
259.4,.12,259.8,.19,259.1,.25,259.6,.15,259.3,.35,
260.2,.13,260.6,.22,260.9,.16,260.4,.31,260.1,.27,
261.5,.11,261.1,.18,261.8,.29,261.3,.36,
262.6,.14,262.2,.23,262.8,.32];

const rightPts = [269.1,.389,271.9,.387,264.3,.366,276.4,.341,265.9,.312,272.0,.302,275.3,.297,276.4,.286,274.0,.266,265.8,.270,267.7,.255,270.8,.253,277.9,.250,268.1,.233,271.1,.209,270.2,.200,275.8,.211,279.1,.197,266.4,.198,270.5,.177,268.1,.156,266.6,.138,268.2,.127,276.4,.125,274.3,.122,265.7,.118,268.3,.091,268.2,.077,266.9,.091,266.4,.081,266.1,.072,267.3,.045,272.9,.051,278.2,.039,270.5,.011,266.4,.027,266.1,.013,266.7,.009,261.0,.387,260.8,.373,262.1,.344,261.7,.337,261.0,.332,260.8,.327,262.2,.314,264.5,.282,264.0,.273,263.7,.264,265.5,.268,265.5,.255,262.8,.247,261.4,.241,261.0,.232,260.8,.227,261.4,.218,261.5,.200,262.2,.195,261.0,.177,264.6,.204,264.5,.182,264.3,.168,264.9,.163,263.1,.127,264.0,.118,262.9,.104,261.7,.104,263.4,.086,262.2,.081,263.1,.068,264.9,.063,264.3,.050,263.4,.027,263.1,.018,261.7,.009,262.9,.000,261.4,.040,268.8,.000,267.9,.002,
269.1,-.052,270.6,-.054,271.2,-.063,270.3,-.109,271.2,-.118,272.1,-.109,278.3,-.086,278.6,-.100,276.5,-.122,277.4,-.122,276.0,-.132,275.7,-.125,272.1,-.150,272.1,-.177,273.3,-.177,276.0,-.206,277.1,-.195,279.2,-.232,272.1,-.255,271.5,-.314,273.4,-.318,268.5,-.341,266.4,-.346,270.6,-.373,266.7,-.378,274.8,-.337,268.2,-.186,267.0,-.173,266.4,-.159,266.7,-.200,267.3,-.232,267.6,-.282,266.4,-.286,268.2,-.291,267.6,-.059,267.9,-.091,266.4,-.081,267.0,-.104,266.1,-.127,267.0,-.136,265.8,-.150,266.4,-.163,266.4,-.004,267.6,-.004,268.2,-.018,269.1,-.018,270.0,.003];

function unpack(lists) {
  const x = [], y = [];
  lists.forEach(a => { for (let i = 0; i + 1 < a.length; i += 2) { x.push(a[i]); y.push(a[i + 1]); } });
  return {x, y};
}
const pts = unpack([leftPts, bandA, bandB, bandC, bandD, bandE, coreFill, nearZero, upperPts, rightPts]);

const orange = '#ff7000';
const dark = '#7f0000';
const txt = '#111';
const fam = 'DejaVu Sans, sans-serif';

const traces = [
  {type: 'scatter', mode: 'markers', x: pts.x, y: pts.y, hoverinfo: 'skip',
   marker: {symbol: 'cross-thin', size: 7, color: orange, line: {color: orange, width: 1.8}}},
  {type: 'scatter', mode: 'lines+markers', x: meanBT, y: meanDiff,
   line: {color: '#7a2030', width: 1.2},
   marker: {symbol: 'circle', size: 11, color: dark},
   error_y: {type: 'data', array: sdDiff, visible: true, color: '#8b2a2a', thickness: 1.4, width: 5}}
];

const axBase = {
  showgrid: false, showline: true, linecolor: '#333', linewidth: 2, mirror: 'ticks',
  ticks: 'inside', tickcolor: '#222', tickwidth: 1.2,
  tickfont: {family: fam, size: 16, color: txt}
};

const layout = {
  width: 903, height: 403,
  margin: {l: 90, r: 30, t: 63, b: 47},
  paper_bgcolor: '#fff', plot_bgcolor: '#fff', showlegend: false,
  font: {family: fam, color: txt},
  title: {text: 'IASI-B – CRIS (PB channel3: 879.688cm-1)', font: {family: fam, size: 21.5, color: txt},
          x: 0.535, xanchor: 'center', xref: 'container', y: 0.958, yref: 'container', yanchor: 'middle'},
  annotations: [{text: '5863 CNO from 1/3/2013 to 26/2/2014', xref: 'paper', yref: 'paper',
                 x: 0.50, y: 1.044, xanchor: 'center', yanchor: 'middle', showarrow: false,
                 font: {family: fam, size: 14.5, color: txt}}],
  xaxis: Object.assign({}, axBase, {
    range: [180, 320], dtick: 20, tick0: 180, ticklen: 14, zeroline: false, ticklabelstandoff: 3,
    minor: {dtick: 5, ticks: 'inside', ticklen: 7, tickcolor: '#222', tickwidth: 1},
    title: {text: 'IASI-B Brightness Temperature (K)', font: {family: fam, size: 15.5, color: txt}, standoff: 9}
  }),
  yaxis: Object.assign({}, axBase, {
    range: [-0.4, 0.4], dtick: 0.2, tick0: 0, tickformat: '.1f', ticklen: 15,
    zeroline: true, zerolinecolor: '#000', zerolinewidth: 1.5,
    minor: {dtick: 0.05, ticks: 'inside', ticklen: 8, tickcolor: '#222', tickwidth: 1},
    title: {text: 'difference (K)', font: {family: fam, size: 17, color: txt}, standoff: 0}
  })
};

Plotly.newPlot('chart', traces, layout, {displayModeBar: false, staticPlot: true});
</script>
</body></html>
